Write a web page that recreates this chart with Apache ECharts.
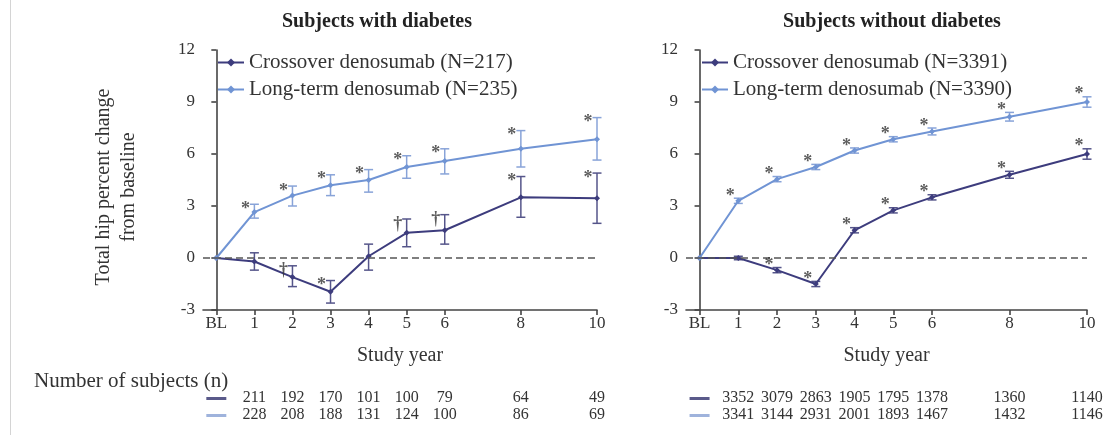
<!DOCTYPE html>
<html>
<head>
<meta charset="utf-8">
<script src="https://cdn.jsdelivr.net/npm/echarts@6/dist/echarts.min.js"></script>
<style>
  html, body { margin: 0; padding: 0; background: #fff; }
  #chart { width: 1115px; height: 435px; }
</style>
</head>
<body>
<div id="chart"></div>
<script>
// Study years on the x axis and the labels shown under the ticks
const years = [0, 1, 2, 3, 4, 5, 6, 8, 10];
const yearLabels = ['BL', '1', '2', '3', '4', '5', '6', '8', '10'];

// Subjects with diabetes: mean percent change and error bar ends
const diabCrossMean = [0, -0.2, -1.1, -1.95, 0.1, 1.45, 1.6, 3.5, 3.45];
const diabCrossLow  = [null, -0.7, -1.65, -2.6, -0.7, 0.65, 0.8, 2.35, 2.0];
const diabCrossHigh = [null, 0.3, -0.45, -1.3, 0.8, 2.25, 2.5, 4.7, 4.9];
const diabLongMean  = [0, 2.65, 3.6, 4.2, 4.5, 5.25, 5.6, 6.3, 6.85];
const diabLongLow   = [null, 2.3, 3.0, 3.6, 3.8, 4.6, 4.85, 5.25, 5.65];
const diabLongHigh  = [null, 3.1, 4.15, 4.8, 5.1, 5.9, 6.3, 7.35, 8.1];

// Subjects without diabetes
const nondCrossMean = [0, 0, -0.7, -1.5, 1.6, 2.75, 3.5, 4.8, 6.0];
const nondCrossLow  = [null, -0.1, -0.85, -1.65, 1.45, 2.6, 3.35, 4.6, 5.7];
const nondCrossHigh = [null, 0.1, -0.55, -1.35, 1.75, 2.9, 3.65, 5.0, 6.3];
const nondLongMean  = [0, 3.3, 4.55, 5.25, 6.2, 6.85, 7.3, 8.15, 9.0];
const nondLongLow   = [null, 3.15, 4.4, 5.1, 6.05, 6.7, 7.1, 7.9, 8.7];
const nondLongHigh  = [null, 3.45, 4.7, 5.4, 6.35, 7.0, 7.5, 8.4, 9.3];

// Significance marks versus baseline
const diabCrossMarks = ['', '', '\u2020', '*', '', '\u2020', '\u2020', '*', '*'];
const diabLongMarks  = ['', '*', '*', '*', '*', '*', '*', '*', '*'];
const nondCrossMarks = ['', '', '*', '*', '*', '*', '*', '*', '*'];
const nondLongMarks  = ['', '*', '*', '*', '*', '*', '*', '*', '*'];

// Number of subjects at each follow-up year
const countYears = [1, 2, 3, 4, 5, 6, 8, 10];
const diabCrossN = [211, 192, 170, 101, 100, 79, 64, 49];
const diabLongN  = [228, 208, 188, 131, 124, 100, 86, 69];
const nondCrossN = [3352, 3079, 2863, 1905, 1795, 1378, 1360, 1140];
const nondLongN  = [3341, 3144, 2931, 2001, 1893, 1467, 1432, 1146];

// Series names
const diabCrossName = 'Crossover denosumab (N=217)';
const diabLongName  = 'Long-term denosumab (N=235)';
const nondCrossName = 'Crossover denosumab (N=3391)';
const nondLongName  = 'Long-term denosumab (N=3390)';

const SERIF = 'Liberation Serif';
const CROSS = '#3d3c7d';
const LONG = '#7094d4';
const CROSS_BAR = '#55558a';
const LONG_BAR = '#88a3d8';
const AXIS = '#444';
const TEXT = '#333';
const X_MIN = -0.35;

const chart = echarts.init(document.getElementById('chart'));

function mainXAxis(gi) {
  return {
    type: 'value', gridIndex: gi, min: X_MIN, max: 10,
    axisLine: { show: true, onZero: false, lineStyle: { color: AXIS, width: 1.6 } },
    axisTick: { show: true, customValues: years, length: 5, lineStyle: { color: AXIS, width: 1.6 } },
    axisLabel: {
      customValues: years, margin: 5,
      formatter: v => yearLabels[years.indexOf(v)],
      fontFamily: SERIF, fontSize: 17, color: TEXT
    },
    splitLine: { show: false },
    name: 'Study year', nameLocation: 'middle', nameGap: 36,
    nameTextStyle: { fontFamily: SERIF, fontSize: 20, color: TEXT }
  };
}

function countXAxis(gi, counts, offset) {
  return {
    type: 'value', gridIndex: gi, min: X_MIN, max: 10, position: 'bottom', offset: offset,
    axisLine: { show: false }, axisTick: { show: false }, splitLine: { show: false },
    axisLabel: {
      customValues: countYears, margin: 0,
      formatter: v => String(counts[countYears.indexOf(v)]),
      fontFamily: SERIF, fontSize: 16, color: TEXT
    }
  };
}

function yAxisFor(gi, withName) {
  const ax = {
    type: 'value', gridIndex: gi, min: -3, max: 12, interval: 3,
    axisLine: { show: true, lineStyle: { color: AXIS, width: 1.6 } },
    axisTick: { show: true, length: 5, lineStyle: { color: AXIS, width: 1.6 } },
    axisLabel: { margin: 8, fontFamily: SERIF, fontSize: 17, color: TEXT },
    splitLine: { show: false }
  };
  if (withName) {
    ax.name = 'Total hip percent change\nfrom baseline';
    ax.nameLocation = 'middle';
    ax.nameGap = 62;
    ax.nameTextStyle = { fontFamily: SERIF, fontSize: 20, color: TEXT, lineHeight: 25, padding: [0, 14, 0, 0] };
  }
  return ax;
}

function lineSeries(name, xi, mean, color, withZero) {
  const s = {
    name: name, type: 'line', xAxisIndex: xi, yAxisIndex: xi, z: 4,
    data: years.map((x, i) => [x, mean[i]]),
    symbol: 'diamond', symbolSize: 6,
    lineStyle: { color: color, width: 2 },
    itemStyle: { color: color },
    emphasis: { disabled: true }
  };
  if (withZero) {
    s.markLine = {
      silent: true, symbol: ['none', 'none'], label: { show: false },
      lineStyle: { color: '#555', type: [7, 4], width: 1.6 },
      data: [{ yAxis: 0 }]
    };
  }
  return s;
}

function errorBarSeries(xi, lo, hi, color) {
  return {
    type: 'custom', xAxisIndex: xi, yAxisIndex: xi, z: 3, silent: true,
    data: years.map((x, i) => [x, lo[i], hi[i]]).filter(d => d[1] != null),
    encode: { x: 0, y: [1, 2] },
    renderItem: function (params, api) {
      const x = api.value(0);
      const a = api.coord([x, api.value(1)]);
      const b = api.coord([x, api.value(2)]);
      const w = 4.5;
      const st = { stroke: color, lineWidth: 1.5 };
      return {
        type: 'group', children: [
          { type: 'line', shape: { x1: a[0], y1: a[1], x2: b[0], y2: b[1] }, style: st },
          { type: 'line', shape: { x1: a[0] - w, y1: a[1], x2: a[0] + w, y2: a[1] }, style: st },
          { type: 'line', shape: { x1: b[0] - w, y1: b[1], x2: b[0] + w, y2: b[1] }, style: st }
        ]
      };
    }
  };
}

function markSeries(xi, hi, marks, offset) {
  return {
    type: 'scatter', xAxisIndex: xi, yAxisIndex: xi, z: 5, silent: true,
    symbolSize: 1, itemStyle: { color: 'rgba(0,0,0,0)' },
    data: years.map((x, i) => [x, hi[i], marks[i]]).filter(d => d[2] !== ''),
    label: {
      show: true, position: 'inside', offset: offset,
      formatter: p => p.data[2],
      fontFamily: SERIF, fontSize: 18, fontWeight: 'bold', color: TEXT
    }
  };
}

const legendText = { fontFamily: SERIF, fontSize: 21, color: TEXT };

const option = {
  animation: false,
  backgroundColor: '#fff',
  grid: [
    { left: 203, top: 50, width: 394, height: 260 },
    { left: 686, top: 50, width: 401, height: 260 }
  ],
  xAxis: [
    mainXAxis(0), mainXAxis(1),
    countXAxis(0, diabCrossN, 80), countXAxis(0, diabLongN, 97),
    countXAxis(1, nondCrossN, 80), countXAxis(1, nondLongN, 97)
  ],
  yAxis: [yAxisFor(0, true), yAxisFor(1, false)],
  legend: [
    {
      data: [diabCrossName, diabLongName], orient: 'vertical', left: 212, top: 47,
      itemWidth: 26, itemHeight: 10, itemGap: 6, textStyle: legendText
    },
    {
      data: [nondCrossName, nondLongName], orient: 'vertical', left: 696, top: 47,
      itemWidth: 26, itemHeight: 10, itemGap: 6, textStyle: legendText
    }
  ],
  series: [
    errorBarSeries(0, diabCrossLow, diabCrossHigh, CROSS_BAR),
    errorBarSeries(0, diabLongLow, diabLongHigh, LONG_BAR),
    lineSeries(diabCrossName, 0, diabCrossMean, CROSS, true),
    lineSeries(diabLongName, 0, diabLongMean, LONG, false),
    markSeries(0, diabCrossHigh, diabCrossMarks, [-9, 5]),
    markSeries(0, diabLongHigh, diabLongMarks, [-9, 5]),
    errorBarSeries(1, nondCrossLow, nondCrossHigh, CROSS_BAR),
    errorBarSeries(1, nondLongLow, nondLongHigh, LONG_BAR),
    lineSeries(nondCrossName, 1, nondCrossMean, CROSS, true),
    lineSeries(nondLongName, 1, nondLongMean, LONG, false),
    markSeries(1, nondCrossHigh, nondCrossMarks, [-8, -2]),
    markSeries(1, nondLongHigh, nondLongMarks, [-8, -2])
  ]
};

chart.setOption(option);

// Titles, row caption and the short colour keys in front of each count row
const blLeft = chart.convertToPixel({ xAxisIndex: 0 }, 0);
const blRight = chart.convertToPixel({ xAxisIndex: 1 }, 0);
function key(cx, y, fill) {
  return { type: 'rect', shape: { x: cx - 10, y: y, width: 20, height: 3 }, style: { fill: fill } };
}
chart.setOption({
  graphic: [
    { type: 'line', shape: { x1: 10.5, y1: 0, x2: 10.5, y2: 435 }, style: { stroke: '#d4d4d4', lineWidth: 1 } },
    { type: 'text', x: 377, y: 22, style: { text: 'Subjects with diabetes', align: 'center', verticalAlign: 'middle', font: 'bold 20px "Liberation Serif"', fill: '#222' } },
    { type: 'text', x: 892, y: 22, style: { text: 'Subjects without diabetes', align: 'center', verticalAlign: 'middle', font: 'bold 20px "Liberation Serif"', fill: '#222' } },
    { type: 'text', x: 34, y: 381, style: { text: 'Number of subjects (n)', align: 'left', verticalAlign: 'middle', font: '21px "Liberation Serif"', fill: TEXT } },
    key(blLeft, 397, '#5a5a8a'), key(blLeft, 414, '#9fb3dc'),
    key(blRight, 397, '#5a5a8a'), key(blRight, 414, '#9fb3dc')
  ]
});
</script>
</body>
</html>
